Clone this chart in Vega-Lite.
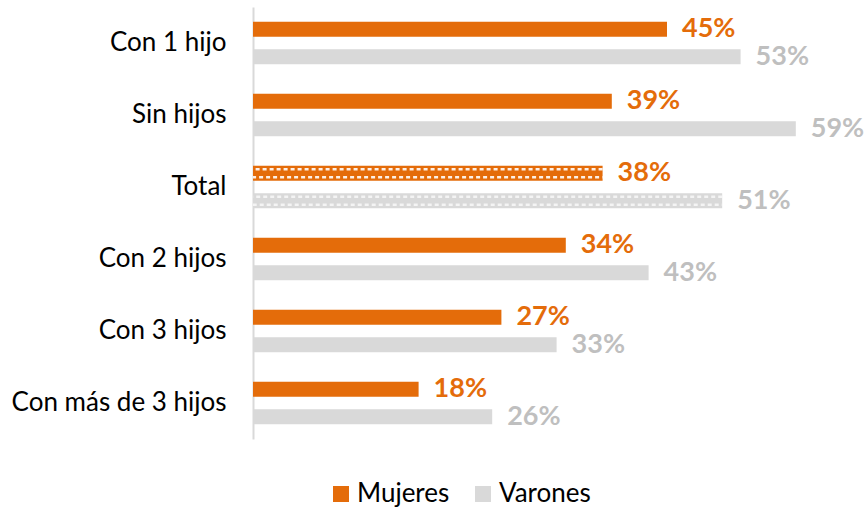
{
  "$schema": "https://vega.github.io/schema/vega-lite/v6.json",
  "autosize": {"type": "none"},
  "padding": {"left": 253, "top": 7, "right": 13, "bottom": 69},
  "width": 598,
  "height": 432,
  "background": "white",
  "config": {"view": {"stroke": null}, "font": "Lato"},
  "data": {"values": [
    {"cat": "Con 1 hijo", "serie": "Mujeres", "value": 45, "label": "45%"},
    {"cat": "Con 1 hijo", "serie": "Varones", "value": 53, "label": "53%"},
    {"cat": "Sin hijos", "serie": "Mujeres", "value": 39, "label": "39%"},
    {"cat": "Sin hijos", "serie": "Varones", "value": 59, "label": "59%"},
    {"cat": "Total", "serie": "Mujeres", "value": 38, "label": "38%"},
    {"cat": "Total", "serie": "Varones", "value": 51, "label": "51%"},
    {"cat": "Con 2 hijos", "serie": "Mujeres", "value": 34, "label": "34%"},
    {"cat": "Con 2 hijos", "serie": "Varones", "value": 43, "label": "43%"},
    {"cat": "Con 3 hijos", "serie": "Mujeres", "value": 27, "label": "27%"},
    {"cat": "Con 3 hijos", "serie": "Varones", "value": 33, "label": "33%"},
    {"cat": "Con más de 3 hijos", "serie": "Mujeres", "value": 18, "label": "18%"},
    {"cat": "Con más de 3 hijos", "serie": "Varones", "value": 26, "label": "26%"}
  ]},
  "encoding": {
    "y": {"field": "cat", "type": "nominal",
      "sort": ["Con 1 hijo", "Sin hijos", "Total", "Con 2 hijos", "Con 3 hijos", "Con más de 3 hijos"],
      "scale": {"paddingInner": 0, "paddingOuter": 0},
      "axis": {"title": null, "ticks": false, "labelPadding": 27, "labelFontSize": 26, "labelLimit": 300, "labelColor": "#000000", "labelFont": "Lato", "domainColor": "#D9D9D9", "domainWidth": 2, "grid": false}},
    "x": {"field": "value", "type": "quantitative", "scale": {"domain": [0, 65]}, "axis": null}
  },
  "layer": [
    {
      "mark": {"type": "bar", "cornerRadius": 0},
      "encoding": {
        "yOffset": {"field": "serie", "type": "nominal", "scale": {"paddingInner": 0.457, "paddingOuter": 0.533}},
        "color": {"field": "serie", "type": "nominal",
          "scale": {"domain": ["Mujeres", "Varones"], "range": ["#E46C0A", "#D9D9D9"]},
          "legend": {"title": null, "orient": "none", "legendX": 75, "legendY": 474, "direction": "horizontal",
            "symbolType": "square", "symbolSize": 256, "symbolStrokeWidth": 0, "labelFontSize": 26, "labelFont": "Lato", "labelColor": "#000000",
            "labelOffset": 3, "columnPadding": 20, "symbolOpacity": 1}}
      }
    },
    {
      "transform": [{"filter": "datum.cat == 'Total' && datum.serie == 'Mujeres'"}],
      "mark": {"type": "rule", "color": "white", "strokeWidth": 2.5, "strokeDash": [4, 3], "strokeCap": "butt", "opacity": 0.9},
      "encoding": {"y": {"field": "cat", "type": "nominal", "bandPosition": 0.255}, "x2": {"datum": 0}}
    },
    {
      "transform": [{"filter": "datum.cat == 'Total' && datum.serie == 'Mujeres'"}],
      "mark": {"type": "rule", "color": "white", "strokeWidth": 2.5, "strokeDash": [4, 3], "strokeDashOffset": 3.5, "strokeCap": "butt", "opacity": 0.9},
      "encoding": {"y": {"field": "cat", "type": "nominal", "bandPosition": 0.365}, "x2": {"datum": 0}}
    },
    {
      "transform": [{"filter": "datum.cat == 'Total' && datum.serie == 'Varones'"}],
      "mark": {"type": "rule", "color": "white", "strokeWidth": 2.5, "strokeDash": [4, 3], "strokeCap": "butt", "opacity": 0.7},
      "encoding": {"y": {"field": "cat", "type": "nominal", "bandPosition": 0.637}, "x2": {"datum": 0}}
    },
    {
      "transform": [{"filter": "datum.cat == 'Total' && datum.serie == 'Varones'"}],
      "mark": {"type": "rule", "color": "white", "strokeWidth": 2.5, "strokeDash": [4, 3], "strokeDashOffset": 3.5, "strokeCap": "butt", "opacity": 0.7},
      "encoding": {"y": {"field": "cat", "type": "nominal", "bandPosition": 0.747}, "x2": {"datum": 0}}
    },
    {
      "mark": {"type": "text", "align": "left", "baseline": "middle", "dx": 15, "fontSize": 27, "fontWeight": "bold", "font": "Lato"},
      "encoding": {
        "yOffset": {"field": "serie", "type": "nominal", "scale": {"paddingInner": 0.457, "paddingOuter": 0.533}},
        "text": {"field": "label"},
        "color": {"condition": {"test": "datum.serie == 'Mujeres'", "value": "#E46C0A"}, "value": "#BFBFBF"}
      }
    }
  ]
}
